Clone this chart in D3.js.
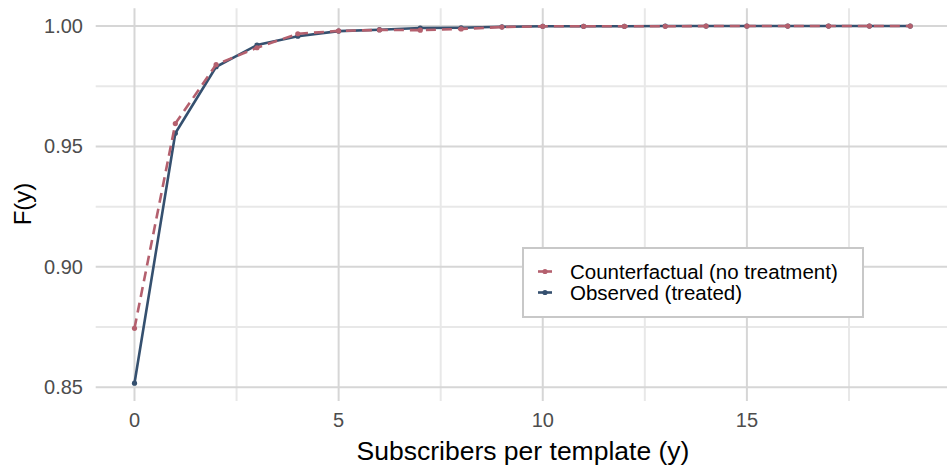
<!DOCTYPE html>
<html><head><meta charset="utf-8">
<script src="https://cdn.jsdelivr.net/npm/d3@7"></script>
<style>body{margin:0;background:#fff;} text{font-family:"Liberation Sans",Arial,sans-serif;}</style>
</head><body>
<svg id="chart" width="947" height="469"></svg>
<script>
const yValues = [0,1,2,3,4,5,6,7,8,9,10,11,12,13,14,15,16,17,18,19];
const observed = [0.8517,0.9555,0.9831,0.9921,0.9958,0.9979,0.9985,0.9992,0.9993,0.9997,0.9999,0.9999,0.9999,1,1,1,1,1,1,1];
const counterfactual = [0.8745,0.9595,0.9840,0.9910,0.9968,0.9980,0.9984,0.9983,0.9988,0.9996,0.9999,0.9999,0.9999,0.9999,1,1,1,1,1,1];
const xTicks = [0,5,10,15];
const xMinor = [2.5,7.5,12.5,17.5];
const yTicks = [0.85,0.90,0.95,1.00];
const yMinor = [0.875,0.925,0.975];
const seriesNames = ["Counterfactual (no treatment)","Observed (treated)"];
const colors = ["#B4606E","#35506F"];

const svg = d3.select("#chart");
const x = d3.scaleLinear().domain([-0.95,19.95]).range([95.7,949]);
const y = d3.scaleLinear().domain([0.8443,1.00742]).range([401,8.2]);
const L = 95.7, R = 949, T = 8.2, B = 401;

const g = svg.append("g");
g.selectAll(".vmin").data(xMinor).enter().append("line")
  .attr("x1",d=>x(d)).attr("x2",d=>x(d)).attr("y1",T).attr("y2",B)
  .attr("stroke","#e8e8e8").attr("stroke-width",2);
g.selectAll(".hmin").data(yMinor).enter().append("line")
  .attr("y1",d=>y(d)).attr("y2",d=>y(d)).attr("x1",L).attr("x2",R)
  .attr("stroke","#e8e8e8").attr("stroke-width",2);
g.selectAll(".vmaj").data(xTicks).enter().append("line")
  .attr("x1",d=>x(d)).attr("x2",d=>x(d)).attr("y1",T).attr("y2",B)
  .attr("stroke","#d6d6d6").attr("stroke-width",2);
g.selectAll(".hmaj").data(yTicks).enter().append("line")
  .attr("y1",d=>y(d)).attr("y2",d=>y(d)).attr("x1",L).attr("x2",R)
  .attr("stroke","#d6d6d6").attr("stroke-width",2);

g.selectAll(".xt").data(xTicks).enter().append("text")
  .attr("x",d=>x(d)).attr("y",427).attr("text-anchor","middle")
  .attr("font-size",20).attr("fill","#4d4d4d").text(d=>d);
g.selectAll(".yt").data(yTicks).enter().append("text")
  .attr("x",83).attr("y",d=>y(d)+7).attr("text-anchor","end")
  .attr("font-size",20).attr("fill","#4d4d4d").text(d=>d.toFixed(2));
svg.append("text").attr("x",523).attr("y",460).attr("text-anchor","middle")
  .attr("font-size",26.5).attr("fill","#000").text("Subscribers per template (y)");
svg.append("text").attr("transform","translate(31,204) rotate(-90)").attr("text-anchor","middle")
  .attr("font-size",24).attr("fill","#000").text("F(y)");

const line = d3.line().x((d,i)=>x(yValues[i])).y(d=>y(d));
const series = [counterfactual, observed];
[1,0].forEach(k=>{
  g.append("path").datum(series[k]).attr("d",line).attr("fill","none")
    .attr("stroke",colors[k]).attr("stroke-width",2.6)
    .attr("stroke-dasharray",k===0?"10,6":null);
  g.selectAll(".pt"+k).data(series[k]).enter().append("circle")
    .attr("cx",(d,i)=>x(yValues[i])).attr("cy",d=>y(d)).attr("r",2.6).attr("fill",colors[k]);
});

const lg = svg.append("g");
lg.append("rect").attr("x",523).attr("y",248).attr("width",340).attr("height",69)
  .attr("fill","#fff").attr("stroke","#c8c8c8").attr("stroke-width",2);
seriesNames.forEach((n,i)=>{
  const cy = 271.5 + i*21;
  lg.append("line").attr("x1",538).attr("x2",552).attr("y1",cy).attr("y2",cy)
    .attr("stroke",colors[i]).attr("stroke-width",2.6);
  lg.append("circle").attr("cx",545).attr("cy",cy).attr("r",2.6).attr("fill",colors[i]);
  lg.append("text").attr("x",570).attr("y",cy+7.5).attr("font-size",20.5).attr("fill","#000").text(n);
});
</script>
</body></html>
